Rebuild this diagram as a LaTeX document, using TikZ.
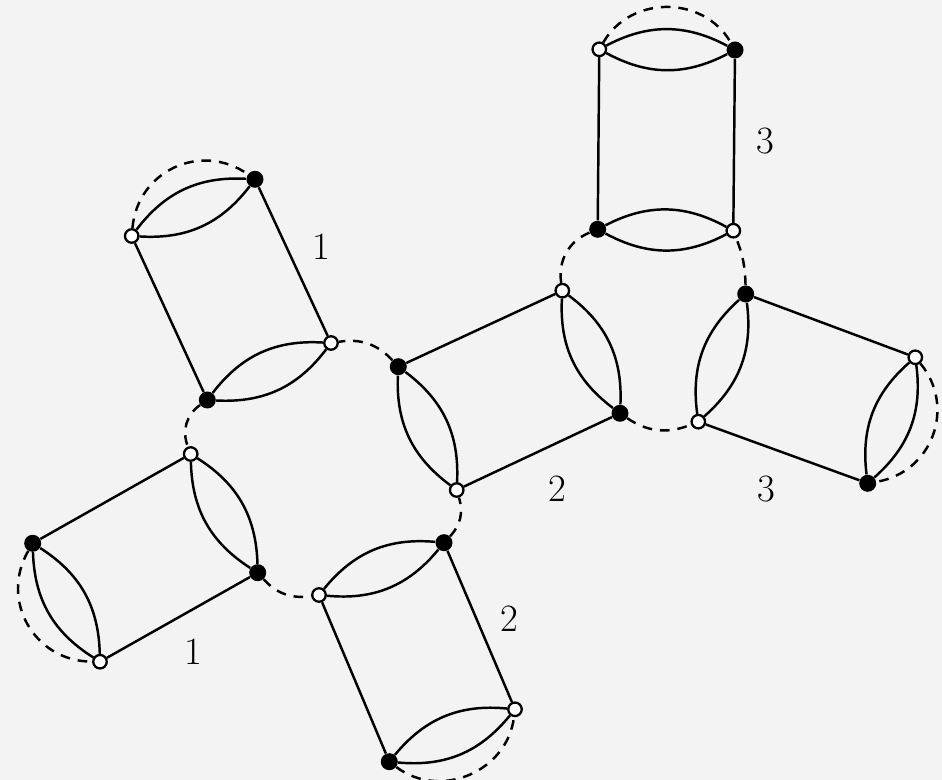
\documentclass[tikz,border=0pt]{standalone}
\usepackage{fontspec}
\usetikzlibrary{positioning}
\definecolor{bgcol}{HTML}{F3F3F3}

\begin{document}
\begin{tikzpicture}[
    wvert/.style={circle, draw, fill=white, line width=1.3pt, inner sep=0pt, minimum size=0.27cm},
    bvert/.style={circle, fill=black, inner sep=0pt, minimum size=0.34cm},
    edge/.style={line width=1.4pt},
    ring/.style={line width=1.4pt, dash pattern=on 5.5pt off 4.5pt},
    lbl/.style={font=\fontsize{22}{26}\selectfont}
]
\fill[bgcol] (0,0) rectangle (18.84,-15.6);
\useasboundingbox (0,0) rectangle (18.84,-15.6);

% block 1, upper
\node[wvert] (a1) at (2.634, -4.72)  {};
\node[bvert] (a2) at (5.10,  -3.586) {};
\node[wvert] (a3) at (6.62,  -6.86)  {};
\node[bvert] (a4) at (4.146, -8.0)   {};
% block 1, lower
\node[bvert] (b1) at (0.654, -10.866) {};
\node[wvert] (b2) at (2.0,   -13.234) {};
\node[bvert] (b3) at (5.154, -11.454) {};
\node[wvert] (b4) at (3.814, -9.08)   {};
% block 2, lower
\node[wvert] (c1) at (6.38,  -11.9)   {};
\node[bvert] (c2) at (8.88,  -10.854) {};
\node[wvert] (c3) at (10.3,  -14.186) {};
\node[bvert] (c4) at (7.786, -15.234) {};
% block 2, middle
\node[wvert] (d1) at (9.134, -9.8)   {};
\node[bvert] (d2) at (7.966, -7.334) {};
\node[wvert] (d3) at (11.246,-5.814) {};
\node[bvert] (d4) at (12.4,  -8.266) {};
% block 3, top
\node[wvert] (e1) at (11.986,-0.986) {};
\node[bvert] (e2) at (14.7,  -1.0)   {};
\node[wvert] (e3) at (14.666,-4.614) {};
\node[bvert] (e4) at (11.954,-4.586) {};
% block 3, right
\node[wvert] (f1) at (13.966,-8.434) {};
\node[bvert] (f2) at (14.914,-5.88)  {};
\node[wvert] (f3) at (18.306,-7.146) {};
\node[bvert] (f4) at (17.354,-9.666) {};

% labels
\node[lbl] (la) at (6.434, -4.934) {1};
\node[lbl] (lb) at (3.866, -13.04) {1};
\node[lbl] (lc) at (10.186,-12.366) {2};
\node[lbl] (ld) at (11.14, -9.78)  {2};
\node[lbl] (le) at (15.3,  -2.82)  {3};
\node[lbl] (lf) at (15.32, -9.78)  {3};

% sides
\draw[edge] (a2) -- (a3);
\draw[edge] (a4) -- (a1);
\draw[edge] (b2) -- (b3);
\draw[edge] (b4) -- (b1);
\draw[edge] (c2) -- (c3);
\draw[edge] (c4) -- (c1);
\draw[edge] (d2) -- (d3);
\draw[edge] (d4) -- (d1);
\draw[edge] (e2) -- (e3);
\draw[edge] (e4) -- (e1);
\draw[edge] (f2) -- (f3);
\draw[edge] (f4) -- (f1);

% double edges
\draw[edge] (a1) to[bend left=28] (a2);
\draw[edge] (a1) to[bend right=28] (a2);
\draw[edge] (a3) to[bend left=28] (a4);
\draw[edge] (a3) to[bend right=28] (a4);
\draw[edge] (b1) to[bend left=28] (b2);
\draw[edge] (b1) to[bend right=28] (b2);
\draw[edge] (b3) to[bend left=28] (b4);
\draw[edge] (b3) to[bend right=28] (b4);
\draw[edge] (c1) to[bend left=28] (c2);
\draw[edge] (c1) to[bend right=28] (c2);
\draw[edge] (c3) to[bend left=28] (c4);
\draw[edge] (c3) to[bend right=28] (c4);
\draw[edge] (d1) to[bend left=28] (d2);
\draw[edge] (d1) to[bend right=28] (d2);
\draw[edge] (d3) to[bend left=28] (d4);
\draw[edge] (d3) to[bend right=28] (d4);
\draw[edge] (e1) to[bend left=28] (e2);
\draw[edge] (e1) to[bend right=28] (e2);
\draw[edge] (e3) to[bend left=28] (e4);
\draw[edge] (e3) to[bend right=28] (e4);
\draw[edge] (f1) to[bend left=28] (f2);
\draw[edge] (f1) to[bend right=28] (f2);
\draw[edge] (f3) to[bend left=28] (f4);
\draw[edge] (f3) to[bend right=28] (f4);

% dashed loops
\draw[ring] (a1) to[bend left=60, looseness=1.15] (a2);
\draw[ring] (b1) to[bend right=60, looseness=1.15] (b2);
\draw[ring] (c4) to[bend right=60, looseness=1.1] (c3);
\draw[ring] (e1) to[bend left=60, looseness=1.1] (e2);
\draw[ring] (f3) to[bend left=60, looseness=1.15] (f4);

% dashed ring links
\draw[ring] (a4) to[bend right=38] (b4);
\draw[ring] (b3) to[bend right=28] (c1);
\draw[ring] (c2) to[bend right=30] (d1);
\draw[ring] (d2) to[bend right=28] (a3);
\draw[ring] (e4) to[bend right=38] (d3);
\draw[ring] (f2) to[bend right=10] (e3);
\draw[ring] (d4) to[bend right=28] (f1);

\end{tikzpicture}
\end{document}
